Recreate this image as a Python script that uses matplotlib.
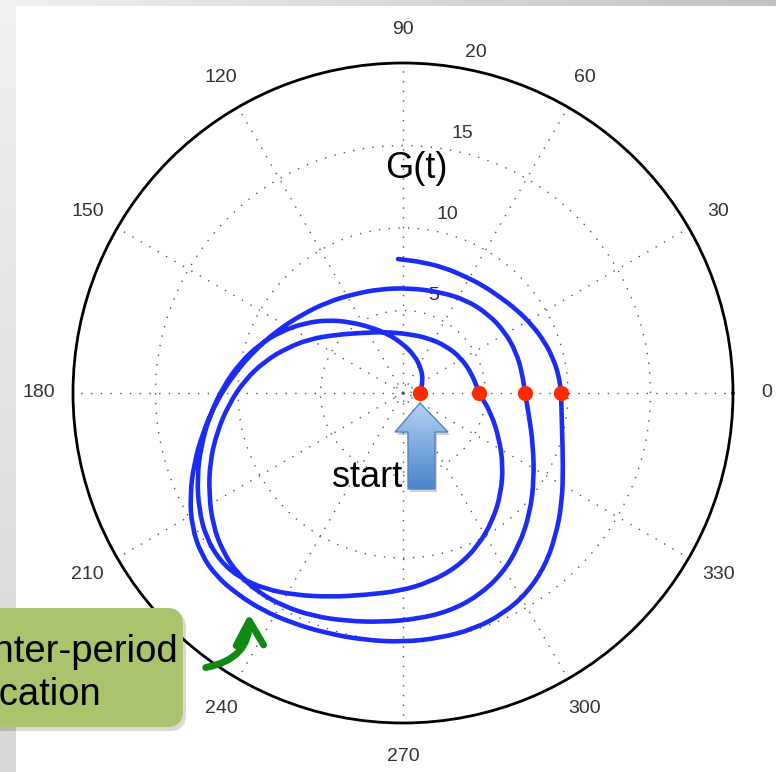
import numpy as np
import matplotlib.pyplot as plt
from matplotlib.patches import Polygon, FancyBboxPatch, FancyArrowPatch, PathPatch
from matplotlib.path import Path
from matplotlib.colors import LinearSegmentedColormap

plt.rcParams['font.family'] = ['Liberation Sans', 'DejaVu Sans']

# G(t) as real / imaginary parts, one pair of lists per period
re_1 = [1.03, 1.21, 1.09, 0.67, 0.00, -0.91, -2.00, -3.21, -4.55, -5.94, -7.33, -8.67,
        -9.88, -10.91, -11.70, -12.24, -12.48, -12.36, -11.94, -11.09, -9.88, -8.36,
        -6.55, -4.42, -2.30, -0.18, 1.64, 3.27, 4.55, 5.45, 5.94, 6.06, 5.82, 5.33, 4.61]
im_1 = [0.00, 0.73, 1.52, 2.30, 2.97, 3.58, 4.00, 4.30, 4.42, 4.24, 3.76, 2.97,
        1.82, 0.36, -1.33, -3.21, -5.15, -7.09, -8.73, -10.18, -11.21, -11.88,
        -12.24, -12.36, -12.24, -12.00, -11.45, -10.55, -9.27, -7.70, -6.06, -4.36, -2.73, -1.21, 0.00]

re_2 = [4.61, 4.18, 3.52, 2.61, 1.52, 0.30, -1.09, -2.61, -4.12, -5.64, -7.03, -8.36,
        -9.58, -10.55, -11.27, -11.70, -11.76, -11.52, -10.91, -10.00, -8.79, -7.27,
        -5.45, -3.39, -1.27, 0.85, 2.85, 4.55, 6.00, 7.03, 7.70, 7.94, 7.88, 7.64, 7.39]
im_2 = [0.00, 1.15, 2.12, 2.85, 3.33, 3.58, 3.70, 3.64, 3.52, 3.27, 2.73, 1.94,
        0.79, -0.67, -2.36, -4.18, -6.12, -8.00, -9.64, -10.97, -12.06, -12.91,
        -13.52, -13.82, -13.88, -13.70, -13.21, -12.30, -10.97, -9.27, -7.27, -5.21, -3.15, -1.39, 0.00]

re_3 = [7.39, 7.21, 6.85, 6.18, 5.15, 3.82, 2.24, 0.42, -1.39, -2.97, -4.55, -6.06,
        -7.58, -8.97, -10.24, -11.33, -12.12, -12.67, -12.91, -12.79, -12.24, -11.33,
        -10.06, -8.55, -6.73, -4.67, -2.36, 0.00, 2.24, 4.30, 6.06, 7.52, 8.61, 9.27,
        9.64, 9.70, 9.64, 9.58]
im_3 = [0.00, 1.27, 2.48, 3.70, 4.79, 5.64, 6.12, 6.36, 6.30, 6.00, 5.52, 4.79,
        3.82, 2.61, 1.15, -0.55, -2.36, -4.30, -6.24, -8.12, -9.76, -11.09,
        -12.18, -13.15, -13.94, -14.55, -14.97, -15.09, -14.85, -14.30, -13.39, -12.12, -10.48, -8.61,
        -6.61, -4.48, -2.24, 0.00]

re_4 = [9.58, 9.45, 9.09, 8.55, 7.82, 6.91, 5.88, 4.79, 3.70, 2.55, 1.15, -0.30]
im_4 = [0.00, 1.03, 2.12, 3.15, 4.12, 5.03, 5.82, 6.55, 7.09, 7.58, 7.94, 8.12]

# |G| where the trajectory crosses the 0 degree axis
crossings = [1.03, 4.61, 7.39, 9.58]

angle_ticks = list(range(0, 360, 30))
radius_ticks = [5, 10, 15, 20]
r_max = 20

W, H = 776, 772
fig = plt.figure(figsize=(W / 100, H / 100), dpi=100)

# grey frame along the top and left edges
bg = fig.add_axes([0, 0, 1, 1])
bg.imshow(np.linspace(0.94, 0.76, 256)[None, :], cmap='gray', vmin=0, vmax=1,
          extent=(0, W, 6, 0), aspect='auto')
bg.imshow(np.linspace(0.94, 0.84, 256)[:, None], cmap='gray', vmin=0, vmax=1,
          extent=(0, 16, H, 6), aspect='auto')
bg.set_xlim(0, W)
bg.set_ylim(H, 0)
bg.axis('off')

# polar axes, matlab style
R, cx, cy = 330, 403, 393
rect = [(cx - R) / W, (H - cy - R) / H, 2 * R / W, 2 * R / H]
ax = fig.add_axes(rect, projection='polar')
ax.set_facecolor('white')
ax.set_ylim(0, r_max)
ax.set_xticks(np.deg2rad(angle_ticks))
ax.set_xticklabels([''] * len(angle_ticks))
ax.set_yticks([0.5, 5, 10, 15])
ax.set_yticklabels([''] * 4)
ax.grid(True, color='#555555', linestyle=(0, (1, 6)), linewidth=1.0)
ax.spines['polar'].set_linewidth(2)
ax.spines['polar'].set_color('black')

for a in angle_ticks:
    ax.text(np.deg2rad(a), 22.06, str(a), ha='center', va='center', fontsize=14,
            color='#333333', clip_on=False)
for v in radius_ticks:
    ax.annotate(str(v), xy=(np.deg2rad(80), v), xytext=(11.5, 11.5), textcoords='offset points',
                ha='center', va='center', fontsize=14, color='#333333', annotation_clip=False)

# trajectory on a cartesian twin of the polar axes (same centre and scale),
# drawn as a smooth quadratic path through the samples
cart = fig.add_axes(rect, zorder=2)
cart.set_xlim(-r_max, r_max)
cart.set_ylim(-r_max, r_max)
cart.axis('off')
cart.patch.set_alpha(0)

re = np.array(re_1 + re_2[1:] + re_3[1:] + re_4[1:])
im = np.array(im_1 + im_2[1:] + im_3[1:] + im_4[1:])
pts = np.column_stack([re, im])
mids = (pts[:-1] + pts[1:]) / 2
verts = [pts[0], mids[0]]
codes = [Path.MOVETO, Path.LINETO]
for i in range(1, len(pts) - 1):
    verts += [pts[i], mids[i]]
    codes += [Path.CURVE3, Path.CURVE3]
verts.append(pts[-1])
codes.append(Path.LINETO)
cart.add_patch(PathPatch(Path(verts, codes), fill=False, ec='#1a2cf5', lw=3.3,
                         capstyle='round', joinstyle='round', zorder=3))
cart.plot(crossings, np.zeros(len(crossings)), 'o', color='#ff2a00', ms=11, mec='none', zorder=4)

# annotations in pixel coordinates
ov = fig.add_axes([0, 0, 1, 1], zorder=5)
ov.set_xlim(0, W)
ov.set_ylim(H, 0)
ov.axis('off')
ov.patch.set_alpha(0)

ov.text(416, 178, 'G(t)', fontsize=26, ha='center', va='baseline')
ov.text(367, 487, 'start', fontsize=26, ha='center', va='baseline')

arrow_pts = [(420, 403), (448, 432), (435, 432), (435, 489), (408, 489), (408, 432), (395, 432)]
ov.add_patch(Polygon([(x + 2, y + 3) for x, y in arrow_pts], closed=True, fc='black',
                     ec='none', alpha=0.18, zorder=5))
arrow = Polygon(arrow_pts, closed=True, fc='none', ec='#5584c0', lw=1, zorder=7)
ov.add_patch(arrow)
cmap = LinearSegmentedColormap.from_list('blue_grad', ['#b3d1f3', '#4a85c9'])
img = ov.imshow(np.linspace(0, 1, 100)[:, None], cmap=cmap, extent=(395, 448, 489, 403),
                aspect='auto', zorder=6)
img.set_clip_path(arrow)

ov.add_patch(FancyBboxPatch((-27, 612), 213, 119, boxstyle='round,pad=0,rounding_size=16',
                            fc='black', ec='none', alpha=0.15, zorder=5))
ov.add_patch(FancyBboxPatch((-30, 608), 213, 119, boxstyle='round,pad=0,rounding_size=16',
                            fc='#a9c46c', ec='none', zorder=6))
ov.text(178, 662, 'inter-period', fontsize=27.5, ha='right', va='baseline', zorder=7)
ov.text(101, 705, 'location', fontsize=27.5, ha='right', va='baseline', zorder=7)

ov.add_patch(FancyArrowPatch((203, 668), (249, 611), connectionstyle='arc3,rad=0.45',
                             arrowstyle='->,head_length=0.8,head_width=0.45', mutation_scale=22,
                             lw=5, color='#128a12', zorder=7))
ov.set_xlim(0, W)
ov.set_ylim(H, 0)

fig.savefig('out.png', dpi=100)
